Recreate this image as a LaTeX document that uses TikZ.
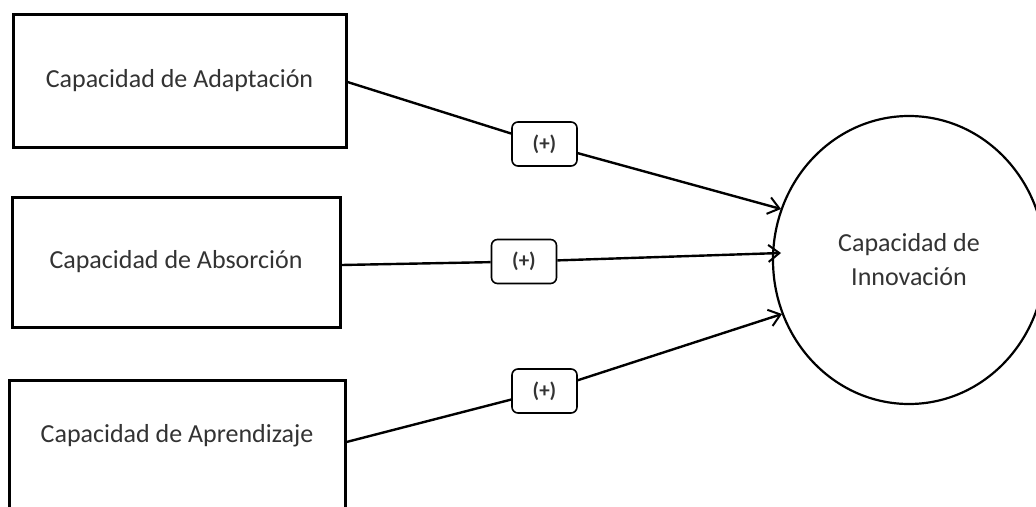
\documentclass[tikz,border=0pt]{standalone}
\usepackage{fontspec}
\setmainfont{Carlito}
\usetikzlibrary{arrows.meta,shapes.geometric}
\definecolor{txtgray}{HTML}{333333}
\begin{document}
\begin{tikzpicture}[x=1pt,y=-1pt,
  box/.style={draw=black,line width=3pt,minimum width=#1,inner sep=0pt},
  lab/.style={draw=black,line width=1.6pt,rounded corners=6pt,minimum width=65pt,minimum height=44pt,inner sep=0pt,font=\fontsize{21}{24}\selectfont\bfseries,text=txtgray},
  txt/.style={font=\fontsize{26}{34}\selectfont,text=txtgray,align=center},
  conn/.style={line width=2.4pt},
  arr/.style={conn,-{Straight Barb[length=11pt,width=17pt,line width=2pt]}}]
\useasboundingbox (0,0) rectangle (1036,506);
\fill[white] (0,0) rectangle (1036,506);
% boxes
\node[box=333pt,minimum height=133pt,txt] (adap) at (179.5,80.5) {Capacidad de Adaptación};
\node[box=328pt,minimum height=130pt,txt] (abs) at (176,262) {Capacidad de Absorción};
\node[box=336pt,minimum height=170pt,anchor=north] (apr) at (177,379) {};
\node[txt] (aprt) at (177,436) {Capacidad de Aprendizaje};
% circle
\node[ellipse,draw=black,line width=2.2pt,minimum width=272pt,minimum height=288pt,inner sep=0pt,txt] (inn) at (909,260) {Capacidad de\\Innovación};
% labels
\node[lab] (l1) at (544.5,144) {(+)};
\node[lab] (l2) at (524,261.5) {(+)};
\node[lab] (l3) at (544.5,391) {(+)};
% coordinates
\coordinate (s1) at (adap.east |- 0,82);
\coordinate (s2) at (abs.east |- 0,265);
\coordinate (s3) at (apr.east |- 0,442);
\coordinate (e1) at (781,209);
\coordinate (e2) at (781,253);
\coordinate (e3) at (782,314);
% connectors
\draw[conn] (s1) -- (l1);
\draw[arr] (l1) -- (e1);
\draw[conn] (s2) -- (l2);
\draw[arr] (l2) -- (e2);
\draw[conn] (s3) -- (l3);
\draw[arr] (l3) -- (e3);
\end{tikzpicture}
\end{document}
